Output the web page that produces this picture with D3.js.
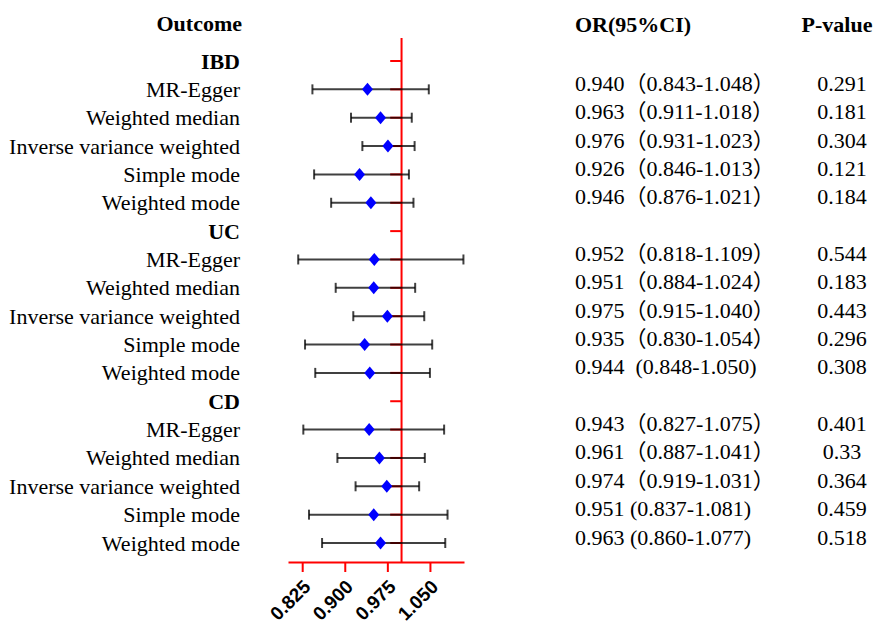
<!DOCTYPE html>
<html>
<head>
<meta charset="utf-8">
<script src="https://cdn.jsdelivr.net/npm/d3@7"></script>
<style>
    body { margin: 0; background: #fff; }
    svg text { white-space: pre; }
    .serif { font-family: "Liberation Serif", "Times New Roman", "DejaVu Serif", "Noto Sans CJK SC", serif; font-size: 22px; }
</style>
</head>
<body>
<div id="chart"></div>
<script>
var outcomes = ["IBD", "UC", "CD"];
var methods = ["MR-Egger", "Weighted median", "Inverse variance weighted", "Simple mode", "Weighted mode"];

// one entry per outcome x method, in table order
var orValues = [0.940, 0.963, 0.976, 0.926, 0.946,
    0.952, 0.951, 0.975, 0.935, 0.944,
    0.943, 0.961, 0.974, 0.951, 0.963];
var lowerCI = [0.843, 0.911, 0.931, 0.846, 0.876,
    0.818, 0.884, 0.915, 0.830, 0.848,
    0.827, 0.887, 0.919, 0.837, 0.860];
var upperCI = [1.048, 1.018, 1.023, 1.013, 1.021,
    1.109, 1.024, 1.040, 1.054, 1.050,
    1.075, 1.041, 1.031, 1.081, 1.077];
var ciLabels = ["0.940（0.843-1.048）", "0.963（0.911-1.018）", "0.976（0.931-1.023）", "0.926（0.846-1.013）", "0.946（0.876-1.021）",
    "0.952（0.818-1.109）", "0.951（0.884-1.024）", "0.975（0.915-1.040）", "0.935（0.830-1.054）", "0.944  (0.848-1.050)",
    "0.943（0.827-1.075）", "0.961（0.887-1.041）", "0.974（0.919-1.031）", "0.951 (0.837-1.081)", "0.963 (0.860-1.077)"];
var pValues = ["0.291", "0.181", "0.304", "0.121", "0.184",
    "0.544", "0.183", "0.443", "0.296", "0.308",
    "0.401", "0.33", "0.364", "0.459", "0.518"];
var tickValues = [0.825, 0.900, 0.975, 1.050];

var width = 875, height = 624;

// build the row list: a header row for each outcome, then its methods
var rows = [];
outcomes.forEach(function (o, i) {
    rows.push({type: "group", label: o});
    methods.forEach(function (m, j) {
        var k = i * methods.length + j;
        rows.push({type: "item", label: m, or: orValues[k], lo: lowerCI[k], hi: upperCI[k],
            ci: ciLabels[k], p: pValues[k]});
    });
});

var x = d3.scaleLinear()
        .domain([0.8, 1.11])
        .range([288, 464]);
var y = d3.scalePoint()
        .domain(d3.range(rows.length))
        .range([61, 543]);
var axisY = 562;

var svg = d3.select("#chart")
        .append("svg")
        .attr("width", width)
        .attr("height", height);

// column headers
svg.append("text").text("Outcome")
        .attr("class", "serif")
        .attr("x", 242).attr("y", 31)
        .attr("text-anchor", "end")
        .style("font-weight", "bold");
svg.append("text").text("OR(95%CI)")
        .attr("class", "serif")
        .attr("x", 575).attr("y", 32)
        .style("font-weight", "bold");
svg.append("text").text("P-value")
        .attr("class", "serif")
        .attr("x", 837).attr("y", 32)
        .attr("text-anchor", "middle")
        .style("font-weight", "bold");

// row labels
svg.selectAll(".row-label")
        .data(rows)
        .enter()
        .append("text")
        .attr("class", "row-label serif")
        .text(function (d) { return d.label; })
        .attr("x", 240)
        .attr("y", function (d, i) { return y(i) + 7.5; })
        .attr("text-anchor", "end")
        .style("font-weight", function (d) { return d.type === "group" ? "bold" : "normal"; });

var items = rows.map(function (d, i) { return {d: d, i: i}; })
        .filter(function (r) { return r.d.type === "item"; });

// small red marks left of the null line on every row
svg.selectAll(".ref-tick")
        .data(rows)
        .enter()
        .append("line")
        .attr("class", "ref-tick")
        .attr("x1", x(0.98)).attr("x2", x(1))
        .attr("y1", function (d, i) { return y(i); })
        .attr("y2", function (d, i) { return y(i); })
        .attr("stroke", "#ff0000")
        .attr("stroke-width", 2);

// axis with red line
var axis = svg.append("g")
        .attr("transform", "translate(0," + axisY + ")")
        .call(d3.axisBottom(x).tickValues(tickValues).tickSize(10).tickSizeOuter(0)
                .tickFormat(d3.format(".3f")));
axis.select(".domain").attr("stroke", "#ff0000").attr("stroke-width", 2);
axis.selectAll(".tick line").attr("stroke", "#ff0000").attr("stroke-width", 2);
axis.selectAll(".tick text")
        .attr("transform", "translate(9,26) rotate(-45)")
        .attr("x", 0).attr("y", 0).attr("dy", 0)
        .style("text-anchor", "end")
        .style("font-family", "'Liberation Sans', Arial, sans-serif")
        .style("font-weight", "bold")
        .style("font-size", "19px")
        .attr("fill", "#000");

// vertical null line at OR = 1
svg.append("line")
        .attr("x1", x(1)).attr("x2", x(1))
        .attr("y1", 38).attr("y2", axisY)
        .attr("stroke", "#ff0000")
        .attr("stroke-width", 2);

// confidence intervals
var ci = svg.selectAll(".ci")
        .data(items)
        .enter()
        .append("g")
        .attr("class", "ci")
        .attr("stroke", "#000")
        .attr("stroke-opacity", 0.75)
        .attr("stroke-width", 2);
ci.append("line")
        .attr("x1", function (r) { return x(r.d.lo); })
        .attr("x2", function (r) { return x(r.d.hi); })
        .attr("y1", function (r) { return y(r.i); })
        .attr("y2", function (r) { return y(r.i); });
ci.append("line")
        .attr("x1", function (r) { return x(r.d.lo); })
        .attr("x2", function (r) { return x(r.d.lo); })
        .attr("y1", function (r) { return y(r.i) - 5; })
        .attr("y2", function (r) { return y(r.i) + 5; });
ci.append("line")
        .attr("x1", function (r) { return x(r.d.hi); })
        .attr("x2", function (r) { return x(r.d.hi); })
        .attr("y1", function (r) { return y(r.i) - 5; })
        .attr("y2", function (r) { return y(r.i) + 5; });

// point estimates
svg.selectAll(".est")
        .data(items)
        .enter()
        .append("path")
        .attr("class", "est")
        .attr("d", "M0,-6.5L5.5,0L0,6.5L-5.5,0Z")
        .attr("transform", function (r) { return "translate(" + x(r.d.or) + "," + y(r.i) + ")"; })
        .attr("fill", "#0000ff");

// OR text and p-values
svg.selectAll(".ci-text")
        .data(items)
        .enter()
        .append("text")
        .attr("class", "ci-text serif")
        .text(function (r) { return r.d.ci; })
        .attr("x", 575)
        .attr("y", function (r) { return y(r.i) + 1.5; });
svg.selectAll(".p-text")
        .data(items)
        .enter()
        .append("text")
        .attr("class", "p-text serif")
        .text(function (r) { return r.d.p; })
        .attr("x", 842)
        .attr("y", function (r) { return y(r.i) + 1.5; })
        .attr("text-anchor", "middle");
</script>
</body>
</html>
